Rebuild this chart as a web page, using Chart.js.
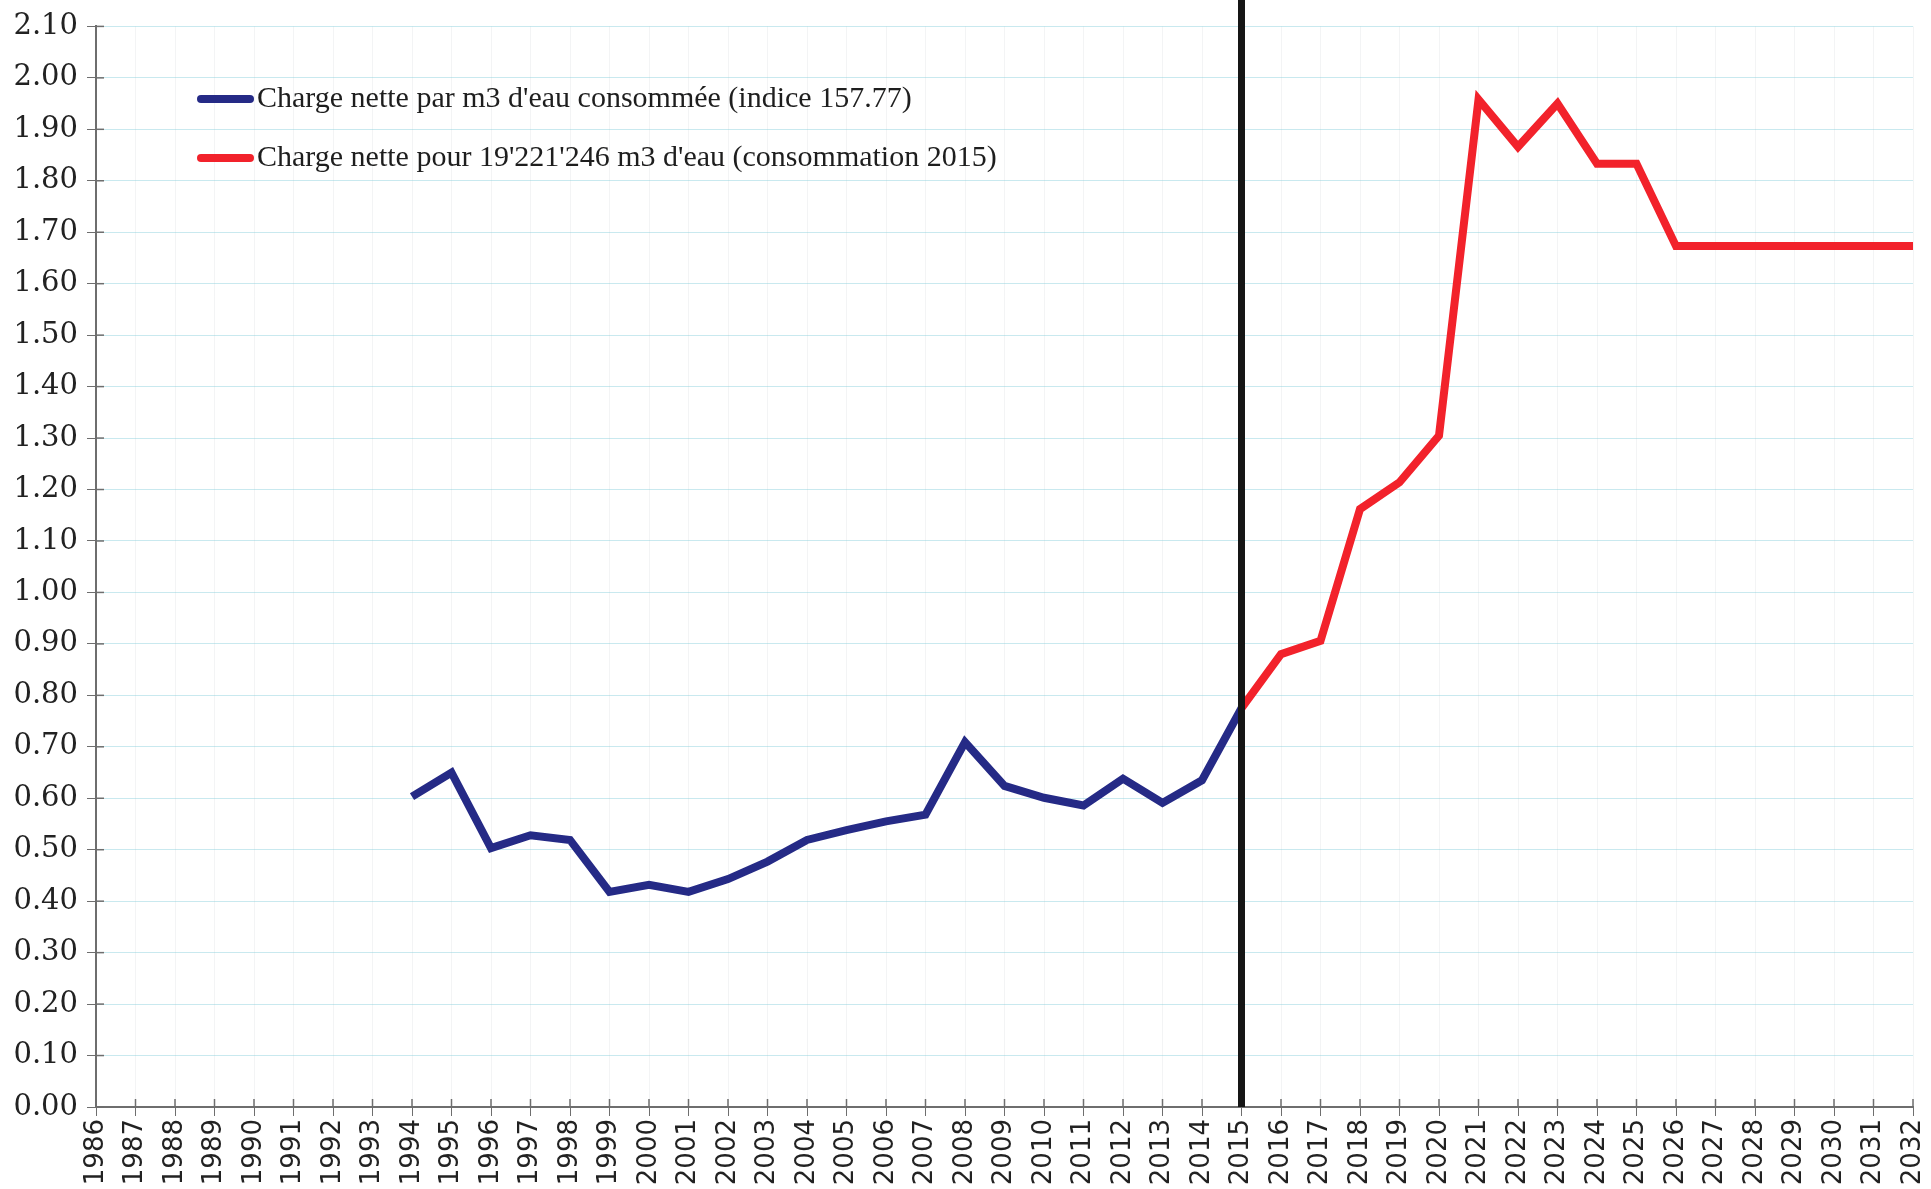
<!DOCTYPE html>
<html>
<head>
<meta charset="utf-8">
<script src="https://cdn.jsdelivr.net/npm/chart.js@4"></script>
<style>
  body { margin: 0; background: #fff; }
  canvas { display: block; }
</style>
</head>
<body>
<canvas id="chart" width="1931" height="1189"></canvas>
<script>
// ================= DATA =================
const years = [];
for (let y = 1986; y <= 2032; y++) years.push(String(y));

// charge nette par m3 (1994 - 2015)
const bluePart = [0.603, 0.650, 0.503, 0.528, 0.519, 0.418, 0.432, 0.418, 0.443, 0.477,
  0.519, 0.538, 0.555, 0.568, 0.709, 0.624, 0.601, 0.586, 0.638, 0.591, 0.635, 0.775];
// charge nette pour 19'221'246 m3 (2015 - 2032)
const redPart = [0.775, 0.880, 0.906, 1.162, 1.214, 1.305, 1.958, 1.866, 1.950, 1.833,
  1.833, 1.673, 1.673, 1.673, 1.673, 1.673, 1.673, 1.673];

const blueLabel = "Charge nette par m3 d'eau consommée (indice 157.77)";
const redLabel = "Charge nette pour 19'221'246 m3 d'eau (consommation 2015)";
const markerYear = "2015";

const blueData = years.map(y => (+y >= 1994 && +y <= 2015) ? bluePart[+y - 1994] : null);
const redData = years.map(y => (+y >= 2015) ? redPart[+y - 2015] : null);

// ================= PLUGINS =================
const extras = {
  id: "extras",
  beforeDatasetsDraw(chart) {
    const { ctx, scales: { x, y }, chartArea } = chart;
    ctx.save();
    ctx.strokeStyle = "#6e6e6e";
    ctx.lineWidth = 1.5;
    // tick marks crossing inside the axes
    y.ticks.forEach((t, i) => {
      const py = y.getPixelForTick(i);
      ctx.beginPath();
      ctx.moveTo(chartArea.left, py);
      ctx.lineTo(chartArea.left + 8, py);
      ctx.stroke();
    });
    x.ticks.forEach((t, i) => {
      const px = x.getPixelForTick(i);
      ctx.beginPath();
      ctx.moveTo(px, chartArea.bottom);
      ctx.lineTo(px, chartArea.bottom - 8);
      ctx.stroke();
    });
    ctx.restore();
  },
  afterDatasetsDraw(chart) {
    const { ctx, scales: { x }, chartArea } = chart;
    // vertical marker at 2015
    const px = x.getPixelForValue(years.indexOf(markerYear));
    ctx.save();
    ctx.strokeStyle = "#151515";
    ctx.lineWidth = 7;
    ctx.beginPath();
    ctx.moveTo(px, 0);
    ctx.lineTo(px, chartArea.bottom);
    ctx.stroke();

    // legend
    ctx.font = "30px 'Liberation Serif', serif";
    ctx.textBaseline = "middle";
    ctx.lineCap = "round";
    chart.data.datasets.forEach((ds, i) => {
      const ly = 99 + i * 59;
      ctx.strokeStyle = ds.borderColor;
      ctx.lineWidth = 8;
      ctx.beginPath();
      ctx.moveTo(201, ly);
      ctx.lineTo(250, ly);
      ctx.stroke();
      ctx.fillStyle = "#1e1e1e";
      ctx.fillText(ds.label, 257, ly);
    });
    ctx.restore();
  }
};

// ================= CHART =================
new Chart(document.getElementById("chart"), {
  type: "line",
  data: {
    labels: years,
    datasets: [
      { label: blueLabel, data: blueData, borderColor: "#252a86", borderWidth: 8, pointRadius: 0, tension: 0 },
      { label: redLabel, data: redData, borderColor: "#f2222b", borderWidth: 8, pointRadius: 0, tension: 0 }
    ]
  },
  options: {
    responsive: false,
    animation: false,
    layout: { padding: { left: 0, top: 24, right: 18, bottom: 0 } },
    plugins: { legend: { display: false }, tooltip: { enabled: false } },
    scales: {
      x: {
        offset: false,
        border: { color: "#6e6e6e", width: 2 },
        grid: {
          color: "rgba(200,205,210,0.22)",
          borderDash: [3, 9],
          tickColor: "#6e6e6e",
          tickLength: 9
        },
        ticks: {
          color: "#222",
          font: { family: "'DejaVu Sans', sans-serif", size: 26 },
          minRotation: 90,
          maxRotation: 90,
          autoSkip: false,
          padding: 3
        },
        afterFit(s) {
          s.height = 82;
          s.paddingLeft = 0;
          s.paddingRight = 0;
        }
      },
      y: {
        min: 0,
        max: 2.1,
        border: { color: "#6e6e6e", width: 2 },
        grid: {
          color: "rgba(120,200,215,0.4)",
          borderDash: [14, 6],
          tickColor: "#6e6e6e",
          tickLength: 9
        },
        ticks: {
          stepSize: 0.1,
          color: "#222",
          font: { family: "'DejaVu Serif', serif", size: 29 },
          padding: 9,
          callback: v => v.toFixed(2)
        },
        afterFit(s) { s.width = 96; }
      }
    }
  },
  plugins: [extras]
});
</script>
</body>
</html>
